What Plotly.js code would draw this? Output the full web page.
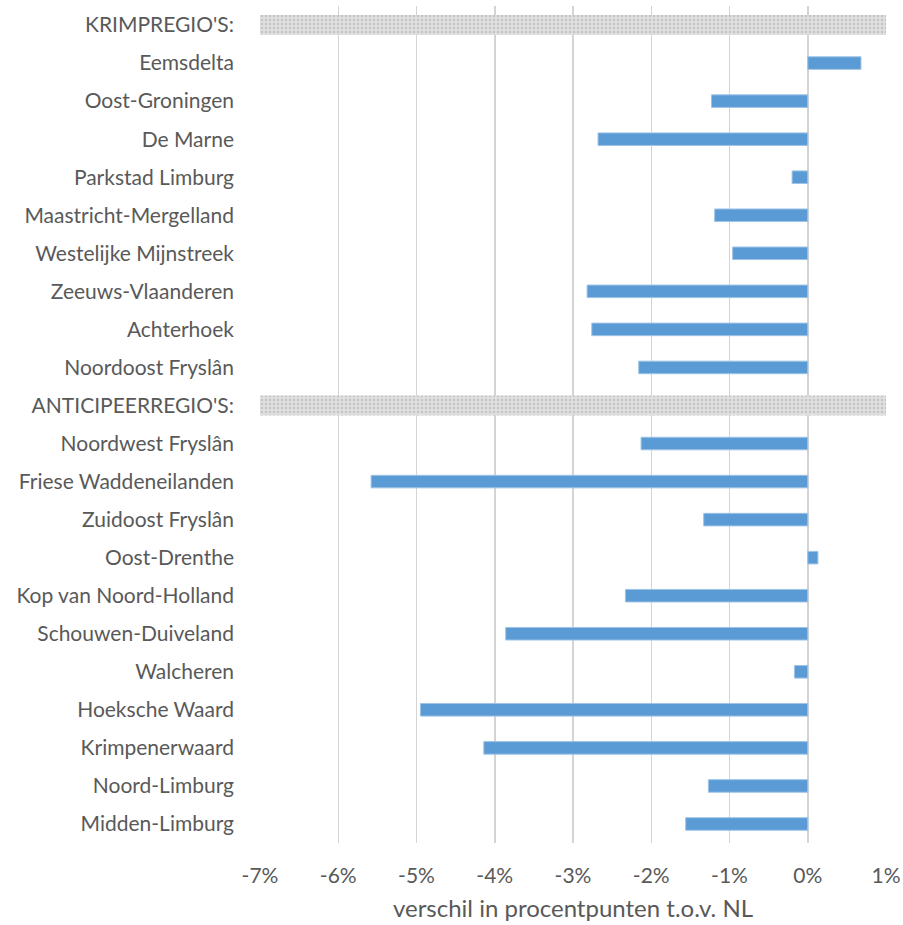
<!DOCTYPE html>
<html>
<head>
<meta charset="utf-8">
<script src="https://cdn.plot.ly/plotly-3.0.1.min.js"></script>
<style>html,body{margin:0;padding:0;background:#fff;}#chart{width:903px;height:925px;}</style>
</head>
<body>
<div id="chart"></div>
<script>
var categories = ["KRIMPREGIO'S:", "Eemsdelta", "Oost-Groningen", "De Marne", "Parkstad Limburg",
  "Maastricht-Mergelland", "Westelijke Mijnstreek", "Zeeuws-Vlaanderen", "Achterhoek",
  "Noordoost Fryslân", "ANTICIPEERREGIO'S:", "Noordwest Fryslân", "Friese Waddeneilanden",
  "Zuidoost Fryslân", "Oost-Drenthe", "Kop van Noord-Holland", "Schouwen-Duiveland",
  "Walcheren", "Hoeksche Waard", "Krimpenerwaard", "Noord-Limburg", "Midden-Limburg"];
var headers = ["KRIMPREGIO'S:", "ANTICIPEERREGIO'S:"];
var regions = ["Eemsdelta", "Oost-Groningen", "De Marne", "Parkstad Limburg",
  "Maastricht-Mergelland", "Westelijke Mijnstreek", "Zeeuws-Vlaanderen", "Achterhoek",
  "Noordoost Fryslân", "Noordwest Fryslân", "Friese Waddeneilanden",
  "Zuidoost Fryslân", "Oost-Drenthe", "Kop van Noord-Holland", "Schouwen-Duiveland",
  "Walcheren", "Hoeksche Waard", "Krimpenerwaard", "Noord-Limburg", "Midden-Limburg"];
var values = [0.68, -1.23, -2.68, -0.20, -1.19, -0.96, -2.82, -2.76, -2.16,
  -2.13, -5.58, -1.33, 0.13, -2.33, -3.86, -0.17, -4.95, -4.14, -1.27, -1.56];
var tickVals = [-7, -6, -5, -4, -3, -2, -1, 0, 1];
var tickText = ["-7%", "-6%", "-5%", "-4%", "-3%", "-2%", "-1%", "0%", "1%"];
var headerStart = -7, headerEnd = 1;

var headerTrace = {
  type: 'bar', orientation: 'h',
  y: headers,
  x: headers.map(function(){ return headerEnd - headerStart; }),
  base: headers.map(function(){ return headerStart; }),
  width: headers.map(function(){ return 0.53; }),
  marker: {color: '#d9d9d9', line: {width: 0},
    pattern: {shape: '.', fgcolor: '#c4c4c4', bgcolor: '#e0e0e0', size: 4, solidity: 0.3}},
  hoverinfo: 'skip', showlegend: false
};
var dataTrace = {
  type: 'bar', orientation: 'h',
  y: regions, x: values,
  width: regions.map(function(){ return 0.33; }),
  marker: {color: '#5b9bd5', line: {color: '#9dc3e6', width: 1}},
  showlegend: false
};

var layout = {
  width: 903, height: 925,
  margin: {l: 260, r: 17, t: 6, b: 82},
  paper_bgcolor: '#ffffff', plot_bgcolor: '#ffffff',
  barmode: 'overlay',
  font: {family: 'Lato, sans-serif', color: '#595959', size: 21},
  xaxis: {
    range: [-7, 1], tickvals: tickVals, ticktext: tickText,
    showgrid: true, gridcolor: '#d4d4d4', gridwidth: 1.5,
    zeroline: false, showline: false, ticks: '',
    ticklabelstandoff: 18,
    tickfont: {size: 21, color: '#595959'},
    title: {text: 'verschil in procentpunten t.o.v. NL', font: {size: 24, color: '#595959'}, standoff: 14},
    fixedrange: true
  },
  yaxis: {
    type: 'category', categoryorder: 'array', categoryarray: categories,
    autorange: 'reversed',
    showgrid: false, zeroline: false, showline: false, ticks: '',
    ticklabelstandoff: 25,
    tickfont: {size: 21, color: '#595959'},
    fixedrange: true
  }
};
Plotly.newPlot('chart', [headerTrace, dataTrace], layout, {displayModeBar: false, staticPlot: true});
</script>
</body>
</html>
